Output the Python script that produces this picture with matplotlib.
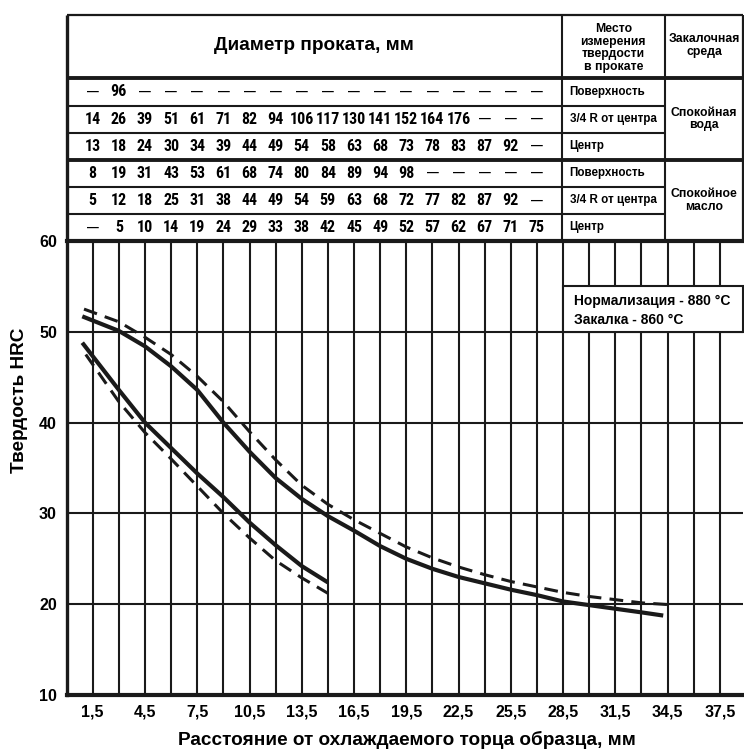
import matplotlib
matplotlib.use("Agg")
import matplotlib.pyplot as plt
from matplotlib import font_manager
from matplotlib.patches import Rectangle

INK = "#1a1a1a"
BOLD = ["Liberation Sans", "DejaVu Sans"]

# hardness bands (HRC) vs distance from quenched end (mm)
upper_solid_x = [0.9, 3, 4.5, 6, 7.5, 9, 10.5, 12, 13.5, 15, 16.5, 18, 19.5, 21, 22.5, 24, 25.5, 27, 28.5, 30, 31.5, 33, 34.25]
upper_solid_y = [51.7, 50.1, 48.4, 46.2, 43.6, 40.0, 36.8, 33.9, 31.6, 29.7, 28.1, 26.4, 25.0, 23.9, 23.0, 22.3, 21.6, 21.0, 20.3, 19.9, 19.5, 19.1, 18.75]
upper_dash_x = [1.0, 3, 4.5, 6, 7.5, 9, 10.5, 12, 13.5, 15, 16.5, 18, 19.5, 21, 22.5, 24, 25.5, 27, 28.5, 30, 31.5, 33, 34.6]
upper_dash_y = [52.5, 51.1, 49.4, 47.5, 45.1, 42.3, 39.0, 35.9, 33.1, 31.0, 29.3, 27.8, 26.3, 25.1, 24.1, 23.25, 22.5, 21.9, 21.3, 20.85, 20.5, 20.15, 19.95]
lower_solid_x = [0.9, 3, 4.5, 6, 7.5, 9, 10.5, 12, 13.5, 15]
lower_solid_y = [48.8, 43.6, 40.0, 37.2, 34.4, 31.8, 29.0, 26.5, 24.2, 22.4]
lower_dash_x = [1.1, 3, 4.5, 6, 7.5, 9, 10.5, 12, 13.5, 15]
lower_dash_y = [47.5, 42.3, 38.9, 36.0, 33.0, 30.0, 27.3, 24.8, 22.9, 21.2]

x_ticks = [1.5, 4.5, 7.5, 10.5, 13.5, 16.5, 19.5, 22.5, 25.5, 28.5, 31.5, 34.5, 37.5]
x_tick_labels = ["1,5", "4,5", "7,5", "10,5", "13,5", "16,5", "19,5", "22,5", "25,5", "28,5", "31,5", "34,5", "37,5"]
y_ticks = [10, 20, 30, 40, 50, 60]

# bar diameters (mm) per measuring place
water_surface = ["—", "96", "—", "—", "—", "—", "—", "—", "—", "—", "—", "—", "—", "—", "—", "—", "—", "—"]
water_34r = ["14", "26", "39", "51", "61", "71", "82", "94", "106", "117", "130", "141", "152", "164", "176", "—", "—", "—"]
water_center = ["13", "18", "24", "30", "34", "39", "44", "49", "54", "58", "63", "68", "73", "78", "83", "87", "92", "—"]
oil_surface = ["8", "19", "31", "43", "53", "61", "68", "74", "80", "84", "89", "94", "98", "—", "—", "—", "—", "—"]
oil_34r = ["5", "12", "18", "25", "31", "38", "44", "49", "54", "59", "63", "68", "72", "77", "82", "87", "92", "—"]
oil_center = ["—", "5", "10", "14", "19", "24", "29", "33", "38", "42", "45", "49", "52", "57", "62", "67", "71", "75"]
place_labels = ["Поверхность", "3/4 R от центра", "Центр"]
media_labels = ["Спокойная\nвода", "Спокойное\nмасло"]


def narrow_family():
    # condensed face if one is installed, else plain sans
    for name in ["Liberation Sans Narrow", "Arial Narrow", "Roboto Condensed", "Open Sans Condensed"]:
        try:
            font_manager.findfont(font_manager.FontProperties(family=name, weight="bold"),
                                  fallback_to_default=False)
            return [name, "DejaVu Sans"], True
        except ValueError:
            pass
    return BOLD, False


def main():
    narrow, is_narrow = narrow_family()
    num_size = 11.5 if is_narrow else 9.8
    place_size = 8.4
    head_size = 8.8

    fig = plt.figure(figsize=(7.44, 7.49), dpi=100)
    left, right = 66.6 / 744, 743 / 744
    ax = fig.add_axes([left, 54 / 749, right - left, 454 / 749])
    ax_t = fig.add_axes([left, 508 / 749, right - left, 226 / 749])
    xmax = 38.83
    step = 1.5

    # --- main chart ---
    ax.set_xlim(0, xmax)
    ax.set_ylim(10, 60)
    ax.set_xticks(x_ticks)
    ax.set_xticklabels(x_tick_labels, fontfamily=BOLD, fontweight="bold", fontsize=11.5)
    ax.set_xticks([t + step for t in x_ticks[:-1]], minor=True)
    ax.set_yticks(y_ticks)
    ax.set_yticklabels([str(v) for v in y_ticks], fontfamily=BOLD, fontweight="bold", fontsize=11.5)
    ax.tick_params(which="both", length=0)
    ax.tick_params(axis="x", pad=7)
    ax.tick_params(axis="y", pad=7)
    ax.grid(which="both", axis="x", color=INK, lw=1.5)
    ax.grid(which="major", axis="y", color=INK, lw=1.5)
    ax.set_axisbelow(True)
    for side, lw in [("left", 2.4), ("bottom", 3.0), ("top", 3.0)]:
        ax.spines[side].set_linewidth(lw)
        ax.spines[side].set_color(INK)
    ax.spines["right"].set_visible(False)

    ax.plot(upper_solid_x, upper_solid_y, color=INK, lw=3, solid_capstyle="butt")
    ax.plot(lower_solid_x, lower_solid_y, color=INK, lw=3, solid_capstyle="butt")
    ax.plot(upper_dash_x, upper_dash_y, color=INK, lw=2.2, dashes=(4.5, 2.7))
    ax.plot(lower_dash_x, lower_dash_y, color=INK, lw=2.2, dashes=(4.5, 2.7))

    ax.add_patch(Rectangle((28.5, 50), xmax - 28.5, 5, facecolor="white",
                           edgecolor=INK, lw=1.5, zorder=3, clip_on=False))
    ax.text(29.15, 53.35, "Нормализация - 880 °C", family=BOLD, fontweight="bold",
            fontsize=10, va="center", zorder=4)
    ax.text(29.15, 51.35, "Закалка - 860 °C", family=BOLD, fontweight="bold",
            fontsize=10, va="center", zorder=4)

    ax.set_xlabel("Расстояние от охлаждаемого торца образца, мм", family=BOLD,
                  fontweight="bold", fontsize=13.7)
    ax.xaxis.set_label_coords(0.503, -0.099)
    ax.xaxis.label.set_va("center")
    ax.set_ylabel("Твердость HRC", family=BOLD, fontweight="bold", fontsize=13.7)
    ax.yaxis.set_label_coords(-0.069, 0.65)
    ax.yaxis.label.set_va("center")

    # --- table above the chart ---
    head = 2.34
    rows = [water_surface, water_34r, water_center, oil_surface, oil_34r, oil_center]
    n = len(rows)
    col_place = 28.42
    col_media = 34.35
    ax_t.set_xlim(0, xmax)
    ax_t.set_ylim(head + n, 0)
    ax_t.axis("off")

    def hline(y, x0, x1, lw):
        ax_t.plot([x0, x1], [y, y], color=INK, lw=lw, solid_capstyle="butt", clip_on=False)

    def vline(x, y0, y1, lw):
        ax_t.plot([x, x], [y0, y1], color=INK, lw=lw, solid_capstyle="butt", clip_on=False)

    hline(0, 0, xmax, 1.6)
    vline(0, 0, head + n, 2.4)
    vline(xmax, 0, head + n, 1.6)
    vline(col_place, 0, head + n, 1.5)
    vline(col_media, 0, head + n, 1.5)
    hline(head, 0, xmax, 2.8)
    hline(head + 3, 0, xmax, 2.8)
    for r in (1, 2, 4, 5):
        hline(head + r, 0, col_media, 1.5)

    ax_t.text(col_place / 2, head / 2 - 0.05, "Диаметр проката, мм", family=BOLD,
              fontweight="bold", fontsize=13.7, ha="center", va="center")
    ax_t.text((col_place + col_media) / 2, head / 2 + 0.05,
              "Место\nизмерения\nтвердости\nв прокате", family=BOLD, fontweight="bold",
              fontsize=head_size, ha="center", va="center", linespacing=1.05)
    ax_t.text((col_media + xmax) / 2, head / 2 - 0.05, "Закалочная\nсреда",
              family=BOLD, fontweight="bold", fontsize=head_size, ha="center",
              va="center", linespacing=1.1)

    for r, vals in enumerate(rows):
        yc = head + r + 0.5
        for i, v in enumerate(vals):
            if v == "—":
                ax_t.text(step * (i + 1), yc, v, family=BOLD, fontweight="bold",
                          fontsize=8.5, ha="center", va="center")
            else:
                ax_t.text(step * (i + 1), yc, v, family=narrow, fontweight="bold",
                          fontsize=num_size, ha="center", va="center")
        ax_t.text(col_place + 0.45, yc, place_labels[r % 3], family=BOLD,
                  fontweight="bold", fontsize=place_size, ha="left", va="center")
    for g, lab in enumerate(media_labels):
        ax_t.text((col_media + xmax) / 2, head + 3 * g + 1.5, lab, family=BOLD,
                  fontweight="bold", fontsize=head_size, ha="center", va="center",
                  linespacing=1.05)

    fig.savefig("out.png", dpi=100)
    plt.close(fig)


if __name__ == "__main__":
    main()
